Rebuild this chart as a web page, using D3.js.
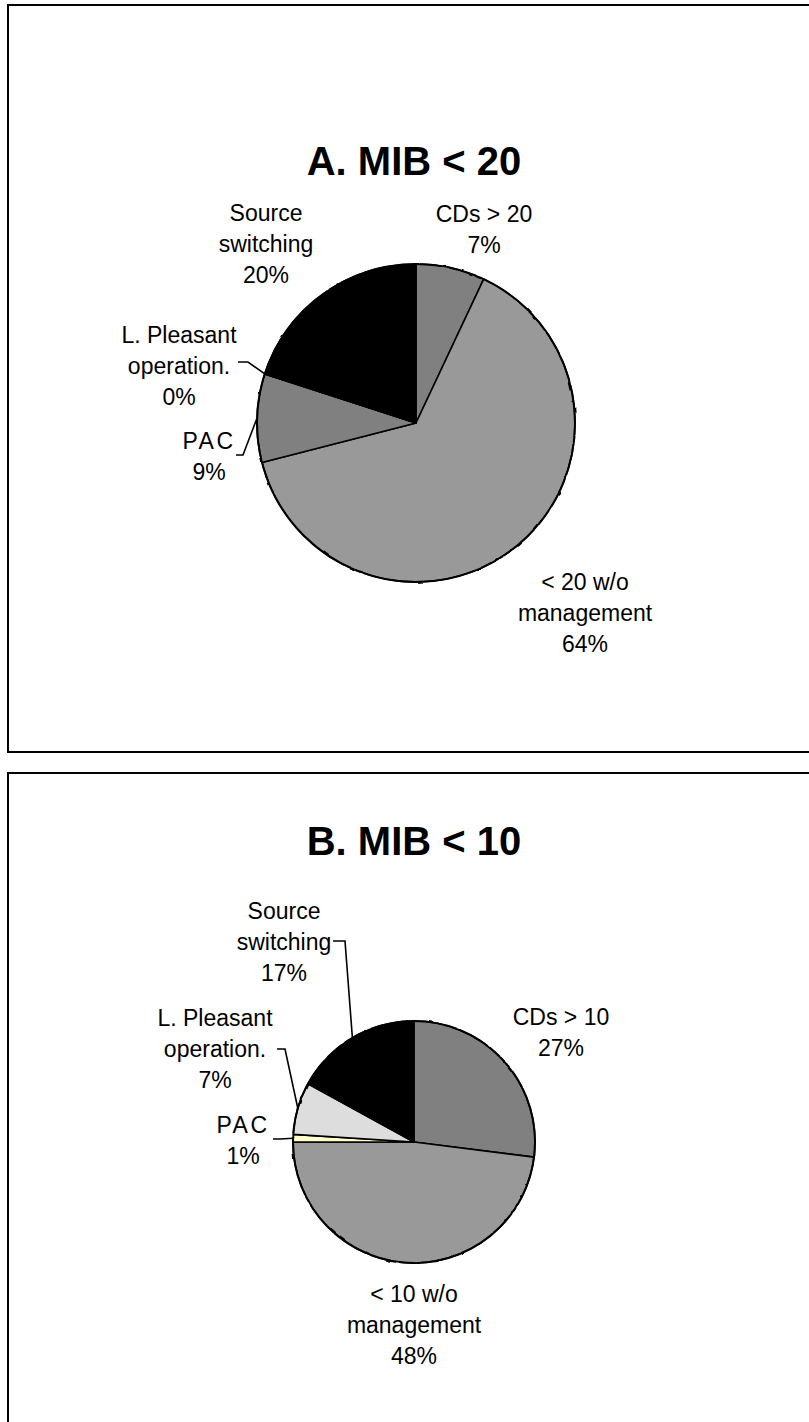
<!DOCTYPE html>
<html>
<head>
<meta charset="utf-8">
<script src="https://cdn.jsdelivr.net/npm/d3@7"></script>
<style>
  body { margin: 0; background: #fff; }
  svg { display: block; }
  text { font-family: "Liberation Sans", Arial, sans-serif; fill: #000; }
</style>
</head>
<body>
<svg id="chart" width="809" height="1422"></svg>
<script>
// ---- data ----
const panelTitles = ["A. MIB < 20", "B. MIB < 10"];

const categoriesA = ["CDs > 20", "< 20 w/o\nmanagement", "PAC", "L. Pleasant\noperation.", "Source\nswitching"];
const valuesA = [7, 64, 9, 0, 20];

const categoriesB = ["CDs > 10", "< 10 w/o\nmanagement", "PAC", "L. Pleasant\noperation.", "Source\nswitching"];
const valuesB = [27, 48, 1, 7, 17];

// ---- styles ----
const colorsA = ["#808080", "#999999", "#808080", "#dddddd", "#000000"];
const colorsB = ["#808080", "#999999", "#ffffcc", "#dddddd", "#000000"];

// ---- layout ----
const LABEL_SIZE = 23, LINE_H = 31, TITLE_SIZE = 40;

const panels = [
  {
    title: panelTitles[0], categories: categoriesA, values: valuesA, colors: colorsA,
    frame: { x: 8, y: 5, w: 830, h: 747 },
    titlePos: { x: 414, y: 175 },
    pie: { cx: 416, cy: 423, r: 159 },
    labels: [
      { x: 484, y: 222 },
      { x: 585, y: 590 },
      { x: 209, y: 449, spacing: 2.5, leader: [[236, 455], [243, 455]] },
      { x: 179, y: 343, leader: [[238, 362], [248, 362]] },
      { x: 266, y: 221 }
    ]
  },
  {
    title: panelTitles[1], categories: categoriesB, values: valuesB, colors: colorsB,
    frame: { x: 8, y: 773, w: 830, h: 700 },
    titlePos: { x: 414, y: 855 },
    pie: { cx: 414, cy: 1142, r: 121 },
    labels: [
      { x: 561, y: 1025 },
      { x: 414, y: 1302 },
      { x: 243, y: 1133, spacing: 2.5, leader: [[273, 1139], [280, 1139]] },
      { x: 215, y: 1026, leader: [[277, 1049], [285, 1049]] },
      { x: 284, y: 919, leader: [[333, 941], [345, 941]] }
    ]
  }
];

const svg = d3.select("#chart");
const pct = d3.format(".0%");

// slightly rough outline for the pie rim
const defs = svg.append("defs");
const rough = defs.append("filter").attr("id", "rough")
  .attr("x", "-5%").attr("y", "-5%").attr("width", "110%").attr("height", "110%");
rough.append("feTurbulence").attr("type", "fractalNoise")
  .attr("baseFrequency", 0.12).attr("numOctaves", 1).attr("seed", 3).attr("result", "noise");
rough.append("feDisplacementMap").attr("in", "SourceGraphic").attr("in2", "noise")
  .attr("scale", 2.5).attr("xChannelSelector", "R").attr("yChannelSelector", "G");

panels.forEach(p => {
  const g = svg.append("g");

  // panel frame
  g.append("rect")
    .attr("x", p.frame.x).attr("y", p.frame.y)
    .attr("width", p.frame.w).attr("height", p.frame.h)
    .attr("fill", "none").attr("stroke", "#000").attr("stroke-width", 2);

  // title
  g.append("text")
    .attr("x", p.titlePos.x).attr("y", p.titlePos.y)
    .attr("text-anchor", "middle")
    .attr("font-size", TITLE_SIZE).attr("font-weight", "bold")
    .text(p.title);

  const total = d3.sum(p.values);
  const items = p.categories.map((c, i) => ({ name: c, value: p.values[i], color: p.colors[i], i }));

  const pie = d3.pie().value(d => d.value).sort(null);
  const arcs = pie(items);
  const arc = d3.arc().innerRadius(0).outerRadius(p.pie.r);

  const pg = g.append("g").attr("transform", `translate(${p.pie.cx},${p.pie.cy})`);
  pg.selectAll("path.slice")
    .data(arcs)
    .join("path")
    .attr("class", "slice")
    .attr("d", arc)
    .attr("fill", d => d.data.color)
    .attr("stroke", "#000")
    .attr("stroke-width", 1.6)
    .attr("stroke-linejoin", "round");

  pg.append("circle")
    .attr("r", p.pie.r)
    .attr("fill", "none")
    .attr("stroke", "#000")
    .attr("stroke-width", 2)
    .attr("filter", "url(#rough)");

  // labels and leader lines
  arcs.forEach((a, k) => {
    const L = p.labels[k];
    const lines = a.data.name.split("\n").concat(pct(a.data.value / total));
    const t = g.append("text")
      .attr("text-anchor", "middle")
      .attr("font-size", LABEL_SIZE);
    lines.forEach((ln, j) => {
      t.append("tspan")
        .attr("x", L.x).attr("y", L.y + j * LINE_H)
        .attr("letter-spacing", j === 0 && L.spacing ? L.spacing : 0)
        .text(ln);
    });

    if (L.leader) {
      const mid = (a.startAngle + a.endAngle) / 2;
      const edge = [p.pie.cx + p.pie.r * Math.sin(mid), p.pie.cy - p.pie.r * Math.cos(mid)];
      const pts = L.leader.concat([edge]);
      g.append("path")
        .attr("d", d3.line()(pts))
        .attr("fill", "none")
        .attr("stroke", "#000")
        .attr("stroke-width", 1.6);
    }
  });
});
</script>
</body>
</html>
